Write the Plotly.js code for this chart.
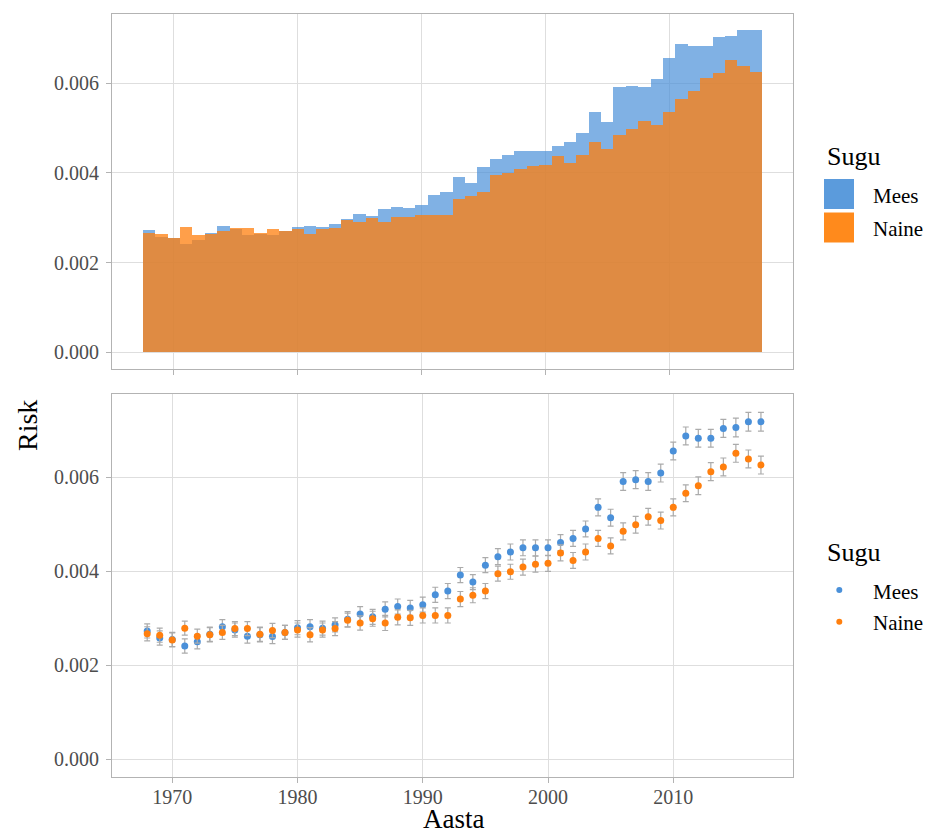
<!DOCTYPE html>
<html>
<head>
<meta charset="utf-8">
<script src="https://cdn.plot.ly/plotly-3.0.1.min.js"></script>
<style>html,body{margin:0;padding:0;background:#fff;}#chart{width:927px;height:836px;}</style>
</head>
<body>
<div id="chart"></div>
<script>
// ---- data ----
const years = [1968,1969,1970,1971,1972,1973,1974,1975,1976,1977,
               1978,1979,1980,1981,1982,1983,1984,1985,1986,1987,
               1988,1989,1990,1991,1992,1993,1994,1995,1996,1997,
               1998,1999,2000,2001,2002,2003,2004,2005,2006,2007,
               2008,2009,2010,2011,2012,2013,2014,2015,2016,2017];
const seriesNames = ["Mees", "Naine"];
const riskMees = [0.00273,0.00258,0.00255,0.00241,0.00250,0.00266,0.00282,0.00275,0.00262,0.00265,
                  0.00261,0.00270,0.00280,0.00282,0.00279,0.00286,0.00298,0.00309,0.00303,0.00319,
                  0.00325,0.00322,0.00329,0.00350,0.00358,0.00392,0.00377,0.00413,0.00431,0.00441,
                  0.00450,0.00450,0.00450,0.00461,0.00470,0.00490,0.00536,0.00514,0.00591,0.00595,
                  0.00591,0.00609,0.00656,0.00688,0.00683,0.00683,0.00704,0.00706,0.00718,0.00718];
const riskNaine = [0.00267,0.00264,0.00254,0.00279,0.00262,0.00265,0.00270,0.00278,0.00278,0.00266,
                   0.00274,0.00270,0.00275,0.00265,0.00275,0.00278,0.00296,0.00290,0.00299,0.00290,
                   0.00302,0.00301,0.00306,0.00306,0.00306,0.00341,0.00349,0.00358,0.00395,0.00399,
                   0.00409,0.00415,0.00417,0.00439,0.00423,0.00441,0.00470,0.00454,0.00485,0.00499,
                   0.00516,0.00508,0.00536,0.00566,0.00582,0.00612,0.00622,0.00651,0.00639,0.00626];
const errMees = [0.00015,0.00015,0.00015,0.00015,0.00015,0.00015,0.00015,0.00015,0.00015,0.00015,
                 0.00015,0.00015,0.00015,0.00015,0.00015,0.00015,0.00016,0.00016,0.00016,0.00016,
                 0.00016,0.00016,0.00016,0.00016,0.00016,0.00016,0.00016,0.00016,0.00017,0.00017,
                 0.00017,0.00017,0.00017,0.00017,0.00017,0.00017,0.00018,0.00018,0.00019,0.00019,
                 0.00019,0.00019,0.00019,0.00019,0.00019,0.00019,0.00019,0.00020,0.00020,0.00020];
const errNaine = [0.00015,0.00015,0.00015,0.00015,0.00015,0.00015,0.00015,0.00015,0.00015,0.00015,
                  0.00015,0.00015,0.00015,0.00015,0.00015,0.00015,0.00015,0.00015,0.00016,0.00016,
                  0.00016,0.00016,0.00016,0.00016,0.00016,0.00016,0.00016,0.00016,0.00016,0.00016,
                  0.00017,0.00017,0.00017,0.00017,0.00017,0.00017,0.00017,0.00017,0.00018,0.00018,
                  0.00018,0.00018,0.00018,0.00018,0.00019,0.00019,0.00019,0.00019,0.00019,0.00019];
const yTickVals = [0, 0.002, 0.004, 0.006];
const yTickText = ["0.000", "0.002", "0.004", "0.006"];
const xTickVals = [1970, 1980, 1990, 2000, 2010];
const xTickText = ["1970", "1980", "1990", "2000", "2010"];
const legendTitle = "Sugu";
const yTitle = "Risk";
const xTitle = "Aasta";

// ---- styling / layout ----
const W = 927, H = 836, ML = 112, MR = 134, MT = 14, MB = 59;
const PW = W - ML - MR, PH = H - MT - MB;
const px = x => (x - ML) / PW;
const py = y => (H - MB - y) / PH;

const blue = "#4A90D9", orange = "#FF7F0E";
const serif = "Liberation Serif, Times New Roman, serif";

const traces = [
  {type: "bar", x: years, y: riskMees, name: seriesNames[0], width: 1,
   marker: {color: blue, opacity: 0.7, line: {width: 0}}, xaxis: "x", yaxis: "y", showlegend: false, hoverinfo: "skip"},
  {type: "bar", x: years, y: riskNaine, name: seriesNames[1], width: 1,
   marker: {color: orange, opacity: 0.75, line: {width: 0}}, xaxis: "x", yaxis: "y", showlegend: false, hoverinfo: "skip"},
  {type: "scatter", mode: "markers", x: years, y: riskMees, name: seriesNames[0],
   marker: {color: blue, size: 7},
   error_y: {type: "data", array: errMees, visible: true, color: "#ABABAB", thickness: 1.2, width: 3},
   xaxis: "x2", yaxis: "y2", showlegend: false, hoverinfo: "skip"},
  {type: "scatter", mode: "markers", x: years, y: riskNaine, name: seriesNames[1],
   marker: {color: orange, size: 7},
   error_y: {type: "data", array: errNaine, visible: true, color: "#ABABAB", thickness: 1.2, width: 3},
   xaxis: "x2", yaxis: "y2", showlegend: false, hoverinfo: "skip"}
];

const axisCommon = {
  showgrid: true, gridcolor: "#DEDEDE", gridwidth: 1,
  showline: true, mirror: true, linecolor: "#B3B3B3", linewidth: 1,
  ticks: "outside", ticklen: 5, tickcolor: "#B3B3B3", tickwidth: 1,
  zeroline: false, fixedrange: true,
  tickfont: {family: serif, size: 20, color: "#4D4D4D"}
};

const layout = {
  width: W, height: H,
  margin: {l: ML, r: MR, t: MT, b: MB, pad: 0},
  paper_bgcolor: "#FFFFFF", plot_bgcolor: "#FFFFFF",
  barmode: "overlay", bargap: 0,
  showlegend: false,
  xaxis: Object.assign({}, axisCommon, {domain: [0, 1], anchor: "y", range: [1965, 2020],
    tickvals: xTickVals, ticktext: xTickText, showticklabels: false}),
  yaxis: Object.assign({}, axisCommon, {domain: [py(369), 1], anchor: "x", range: [-0.000372, 0.007546],
    tickvals: yTickVals, ticktext: yTickText, ticklabelstandoff: 3}),
  xaxis2: Object.assign({}, axisCommon, {domain: [0, 1], anchor: "y2", range: [1965.19, 2019.56],
    tickvals: xTickVals, ticktext: xTickText, ticklabelstandoff: -3}),
  yaxis2: Object.assign({}, axisCommon, {domain: [0, py(394)], anchor: "x2", range: [-0.000377, 0.007772],
    tickvals: yTickVals, ticktext: yTickText, ticklabelstandoff: 3}),
  shapes: [
    {type: "rect", xref: "paper", yref: "paper", x0: px(824), x1: px(854), y0: py(209), y1: py(179),
     fillcolor: "#5B9BDC", line: {width: 0}},
    {type: "rect", xref: "paper", yref: "paper", x0: px(824), x1: px(854), y0: py(242.5), y1: py(212.5),
     fillcolor: "#FF8A1C", line: {width: 0}},
    {type: "circle", xref: "paper", yref: "paper", x0: px(836.3), x1: px(842.3), y0: py(593), y1: py(587),
     fillcolor: blue, line: {width: 0}},
    {type: "circle", xref: "paper", yref: "paper", x0: px(836.3), x1: px(842.3), y0: py(624.7), y1: py(618.7),
     fillcolor: orange, line: {width: 0}}
  ],
  annotations: [
    {text: legendTitle, xref: "paper", yref: "paper", x: px(825), y: py(157), xanchor: "left", yanchor: "middle",
     showarrow: false, font: {family: serif, size: 26, color: "#000"}},
    {text: seriesNames[0], xref: "paper", yref: "paper", x: px(871), y: py(196), xanchor: "left", yanchor: "middle",
     showarrow: false, font: {family: serif, size: 21, color: "#000"}},
    {text: seriesNames[1], xref: "paper", yref: "paper", x: px(871), y: py(229), xanchor: "left", yanchor: "middle",
     showarrow: false, font: {family: serif, size: 21, color: "#000"}},
    {text: legendTitle, xref: "paper", yref: "paper", x: px(825), y: py(552), xanchor: "left", yanchor: "middle",
     showarrow: false, font: {family: serif, size: 26, color: "#000"}},
    {text: seriesNames[0], xref: "paper", yref: "paper", x: px(871), y: py(592), xanchor: "left", yanchor: "middle",
     showarrow: false, font: {family: serif, size: 21, color: "#000"}},
    {text: seriesNames[1], xref: "paper", yref: "paper", x: px(871), y: py(623), xanchor: "left", yanchor: "middle",
     showarrow: false, font: {family: serif, size: 21, color: "#000"}},
    {text: yTitle, xref: "paper", yref: "paper", x: px(27), y: py(426), xanchor: "center", yanchor: "middle",
     textangle: -90, showarrow: false, font: {family: serif, size: 28, color: "#000"}},
    {text: xTitle, xref: "paper", yref: "paper", x: px(453), y: py(836), xanchor: "center", yanchor: "bottom",
     showarrow: false, font: {family: serif, size: 27, color: "#000"}}
  ]
};

Plotly.newPlot("chart", traces, layout, {displayModeBar: false, staticPlot: true});
</script>
</body>
</html>
